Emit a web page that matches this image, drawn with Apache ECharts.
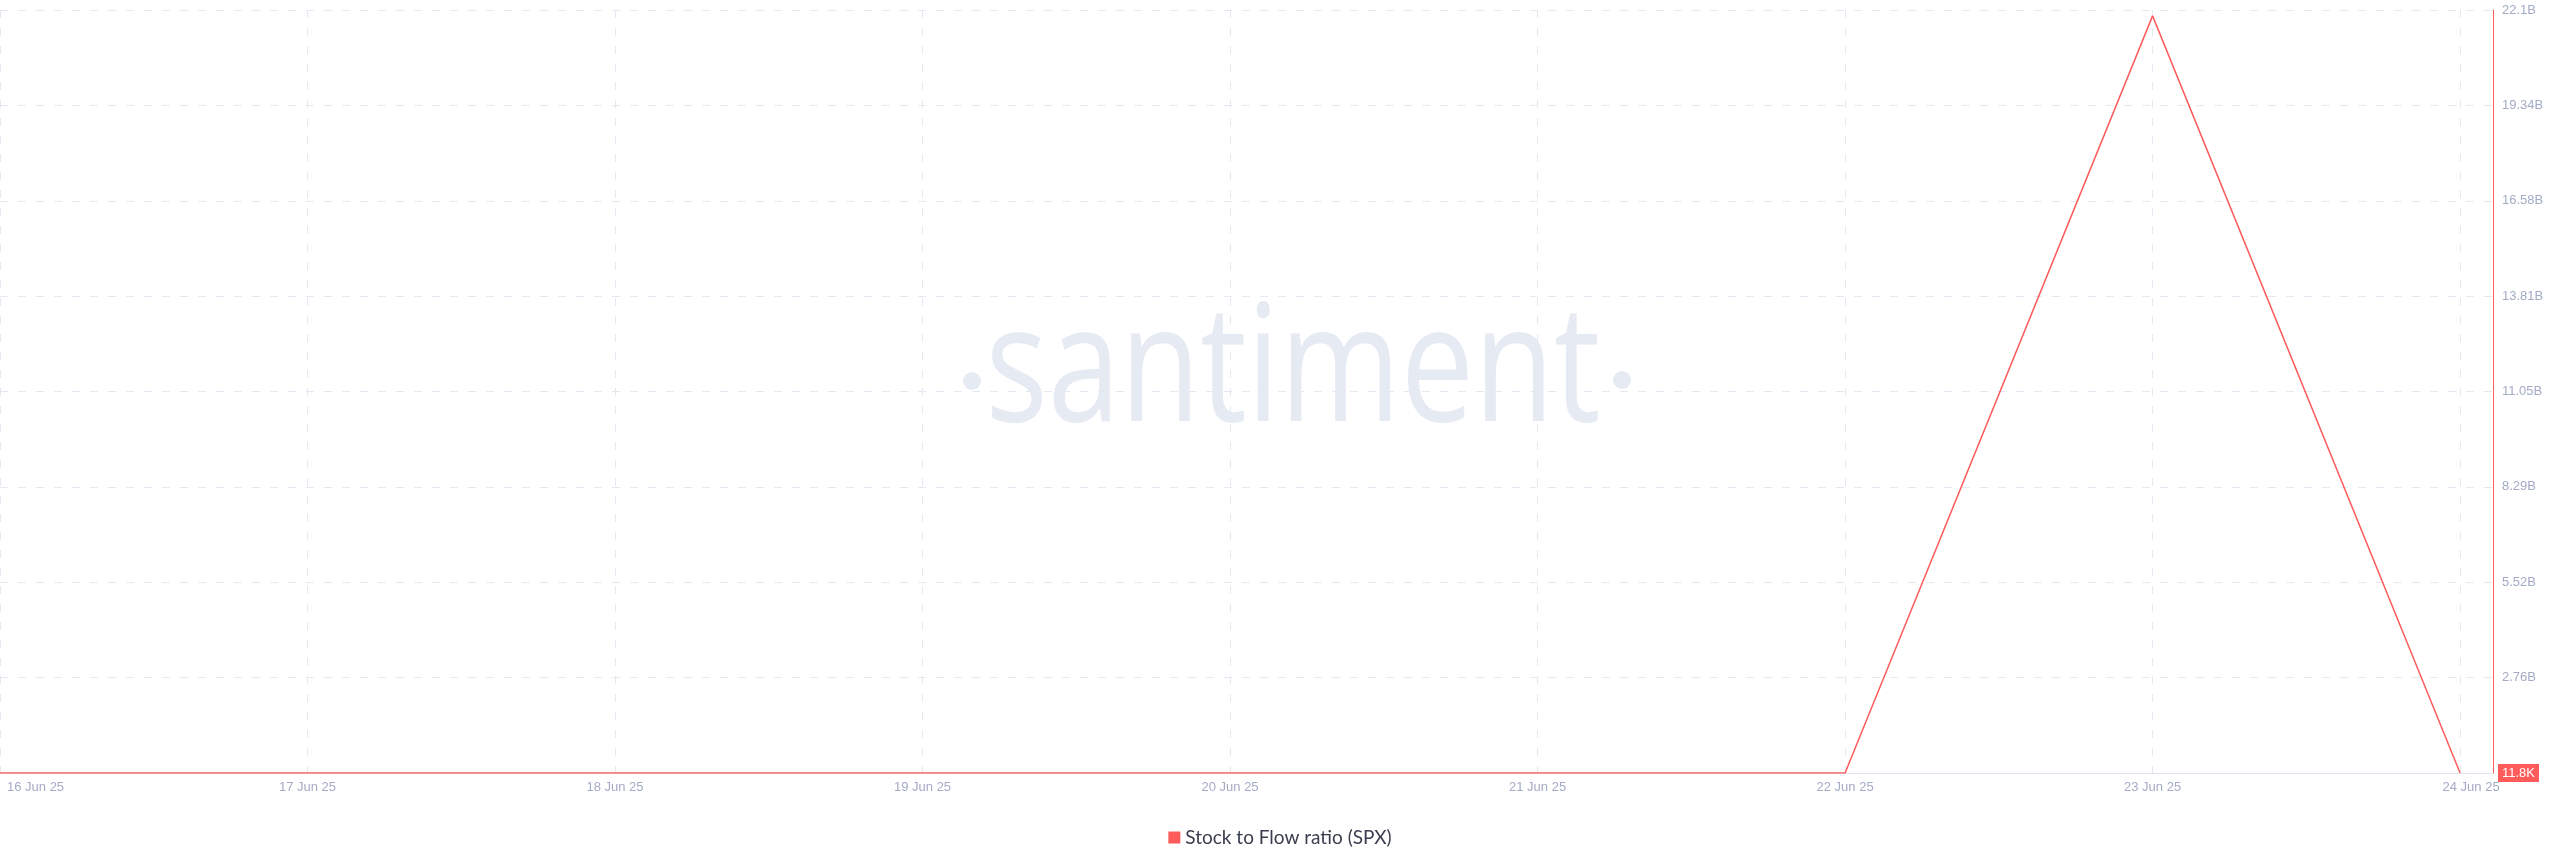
<!DOCTYPE html>
<html>
<head>
<meta charset="utf-8">
<style>
  html, body { margin: 0; padding: 0; background: #ffffff; }
  #chart { width: 2560px; height: 867px; }
</style>
<script src="https://cdn.jsdelivr.net/npm/echarts@6/dist/echarts.min.js"></script>
</head>
<body>
<div id="chart"></div>
<script>
// ---- data ----
const dates = ['2025-06-16', '2025-06-17', '2025-06-18', '2025-06-19', '2025-06-20', '2025-06-21', '2025-06-22', '2025-06-23', '2025-06-24'];
const stockToFlow = [11800, 11800, 11800, 11800, 11800, 11800, 11800, 21930000000, 11800];
const seriesName = 'Stock to Flow ratio (SPX)';
const yTickLabels = ['', '2.76B', '5.52B', '8.29B', '11.05B', '13.81B', '16.58B', '19.34B', '22.1B'];
const yMax = 22.1e9;
const lastValueLabel = '11.8K';
const monthNames = ['Jan', 'Feb', 'Mar', 'Apr', 'May', 'Jun', 'Jul', 'Aug', 'Sep', 'Oct', 'Nov', 'Dec'];

function toTime(s) {
  const p = s.split('-').map(Number);
  return new Date(p[0], p[1] - 1, p[2]).getTime();
}
const DAY = 86400000;
const seriesData = dates.map((d, i) => [toTime(d), stockToFlow[i]]);
const xMin = toTime(dates[0]);
const xLast = toTime(dates[dates.length - 1]);
const xMax = xLast + 0.107 * DAY;
const yInterval = yMax / (yTickLabels.length - 1);

const RED = '#ff5b5b';
const AXIS_TEXT = '#a3abc6';
const GRID = '#e4e8f0';
const WM = '#e6eaf3';

// ---- watermark sizing (decoration) ----
const WM_FONT_FAMILY = '"Open Sans"';
const wmTarget = { left: 992, right: 1598, baseline: 423, xHeight: 88 };
const mc = document.createElement('canvas').getContext('2d');
mc.font = '100px ' + WM_FONT_FAMILY;
mc.textBaseline = 'alphabetic';
const xh100 = mc.measureText('x').actualBoundingBoxAscent || 53.5;
const wmSize = Math.round(100 * wmTarget.xHeight / xh100);
mc.font = wmSize + 'px ' + WM_FONT_FAMILY;
mc.textAlign = 'left';
mc.textBaseline = 'middle';
const wmM = mc.measureText('santiment');
const wmL = wmM.actualBoundingBoxLeft || 0;
const wmR = wmM.actualBoundingBoxRight || wmM.width;
const wmDesc = wmM.actualBoundingBoxDescent;
const wmScaleX = (wmTarget.right - wmTarget.left) / (wmL + wmR);
const wmX = wmTarget.left + wmL * wmScaleX;
const wmY = wmTarget.baseline - wmDesc;

const chart = echarts.init(document.getElementById('chart'), null, { renderer: 'canvas' });

chart.setOption({
  backgroundColor: '#ffffff',
  animation: false,
  graphic: [
    {
      type: 'text',
      z: -10,
      silent: true,
      x: wmX,
      y: wmY,
      scaleX: wmScaleX,
      originX: 0,
      originY: 0,
      style: {
        text: 'santiment',
        font: wmSize + 'px ' + WM_FONT_FAMILY,
        fill: WM,
        textAlign: 'left',
        textVerticalAlign: 'middle'
      }
    },
    { type: 'circle', z: -10, silent: true, shape: { cx: 972, cy: 381, r: 9 }, style: { fill: WM } },
    { type: 'circle', z: -10, silent: true, shape: { cx: 1622, cy: 380, r: 9 }, style: { fill: WM } }
  ],
  grid: { left: 0, right: 67, top: 10, bottom: 94, containLabel: false },
  legend: {
    show: true,
    left: 'center',
    top: 823,
    icon: 'rect',
    itemWidth: 12,
    itemHeight: 12,
    itemGap: 8,
    textStyle: { color: '#3a3e4f', fontSize: 19, fontFamily: 'Lato' },
    data: [seriesName]
  },
  xAxis: {
    type: 'time',
    min: xMin,
    max: xMax,
    minInterval: DAY,
    maxInterval: DAY,
    axisLine: { show: true, lineStyle: { color: '#dde3ee', width: 1 } },
    axisTick: { show: false },
    splitLine: { show: true, lineStyle: { color: GRID, type: [8, 10], width: 1 } },
    axisLabel: {
      color: AXIS_TEXT,
      fontSize: 13,
      fontFamily: 'Liberation Sans',
      margin: 8,
      showMinLabel: true,
      alignMinLabel: 'left',
      hideOverlap: false,
      rich: {
        first: { color: AXIS_TEXT, fontSize: 13, fontFamily: 'Liberation Sans', padding: [0, 0, 0, 7] },
        last: { color: AXIS_TEXT, fontSize: 13, fontFamily: 'Liberation Sans', padding: [0, 0, 0, 22] }
      },
      formatter: function (v) {
        const d = new Date(v);
        const s = d.getDate() + ' ' + monthNames[d.getMonth()] + ' ' + String(d.getFullYear()).slice(2);
        if (v === xMin) return '{first|' + s + '}';
        if (v === xLast) return '{last|' + s + '}';
        return s;
      }
    }
  },
  yAxis: {
    type: 'value',
    position: 'right',
    min: 0,
    max: yMax,
    interval: yInterval,
    axisLine: { show: true, lineStyle: { color: RED, width: 1 } },
    axisTick: { show: false },
    splitLine: { show: true, lineStyle: { color: GRID, type: [8, 10], width: 1 } },
    axisLabel: {
      color: AXIS_TEXT,
      fontSize: 13,
      fontFamily: 'Liberation Sans',
      margin: 9,
      formatter: function (v) {
        return yTickLabels[Math.round(v / yInterval)] || '';
      }
    },
    axisPointer: {
      show: true,
      status: 'show',
      value: stockToFlow[stockToFlow.length - 1],
      snap: false,
      triggerTooltip: false,
      type: 'line',
      lineStyle: { opacity: 0 },
      label: {
        show: true,
        formatter: function () { return lastValueLabel; },
        backgroundColor: RED,
        color: '#ffffff',
        fontSize: 13,
        fontFamily: 'Liberation Sans',
        padding: [3, 4, 2, 4],
        margin: 5,
        borderRadius: 0
      }
    }
  },
  axisPointer: { triggerOn: 'none' },
  series: [
    {
      name: seriesName,
      type: 'line',
      data: seriesData,
      showSymbol: false,
      symbol: 'none',
      lineStyle: { color: RED, width: 1.5 },
      itemStyle: { color: RED },
      clip: true
    }
  ]
});
</script>
</body>
</html>
